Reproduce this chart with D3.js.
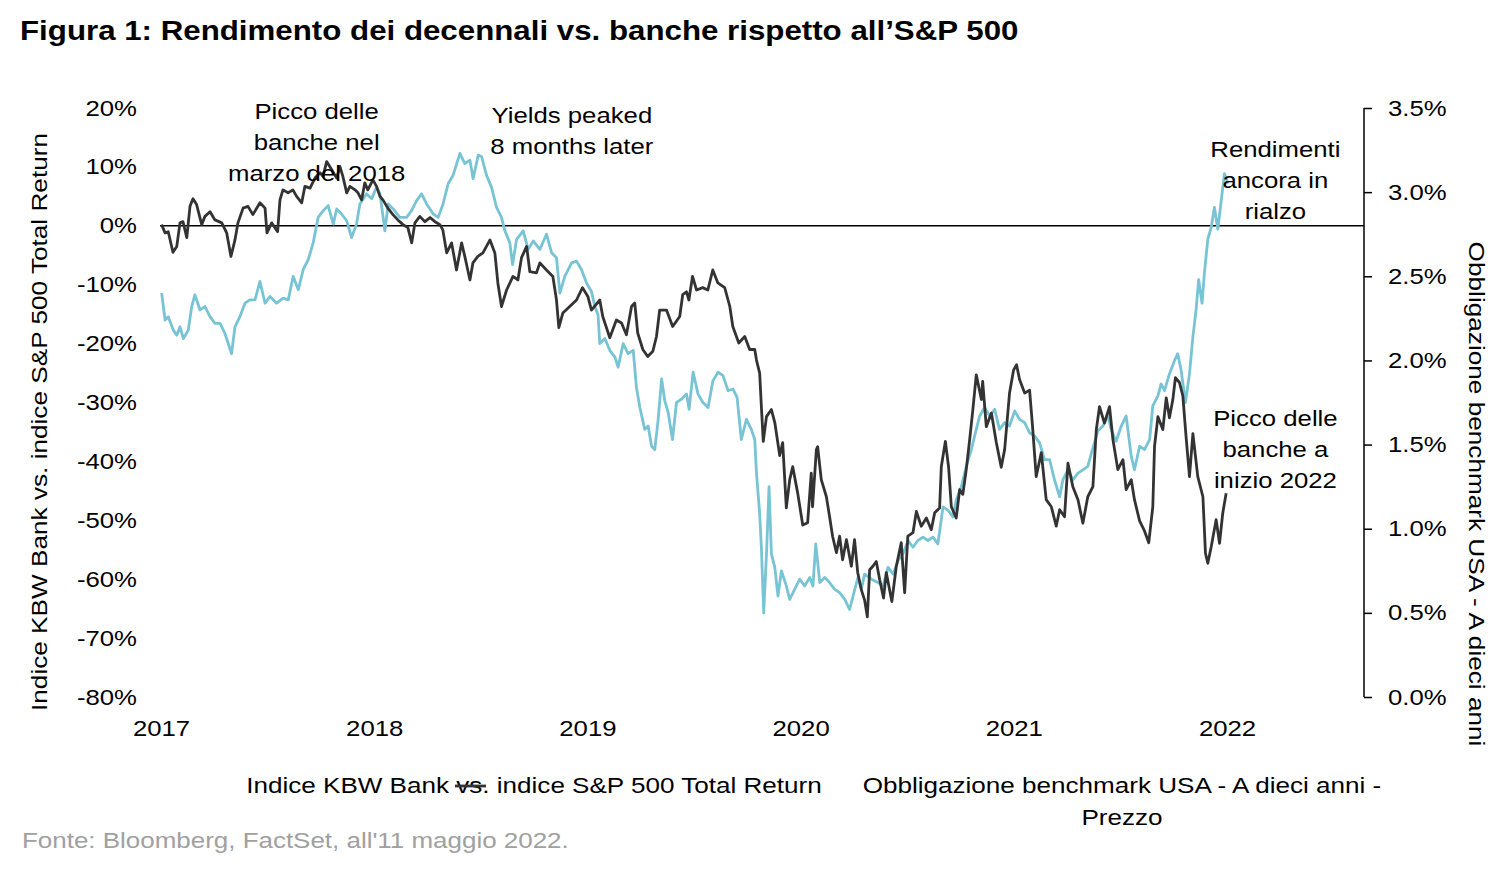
<!DOCTYPE html>
<html><head><meta charset="utf-8">
<script src="https://cdn.jsdelivr.net/npm/d3@7"></script>
<style>
body{margin:0;background:#fff;}
text{font-family:"Liberation Sans",Arial,sans-serif;}
</style></head>
<body>
<svg id="chart" width="1500" height="871"></svg>
<script>
// ---- DATA ----
const yearTicks = [2017, 2018, 2019, 2020, 2021, 2022];
const leftTicks = [20, 10, 0, -10, -20, -30, -40, -50, -60, -70, -80];
const rightTicks = [0, 0.5, 1.0, 1.5, 2.0, 2.5, 3.0, 3.5];

// KBW Bank vs S&P 500 TR (relative %), time in years since 2017
const kbwT = [0.003,0.019,0.034,0.056,0.074,0.089,0.103,0.121,0.136,0.150,0.167,0.191,0.206,0.230,0.253,0.285,0.308,0.328,0.347,0.361,0.385,0.408,0.431,0.464,0.488,0.497,0.519,0.547,0.558,0.572,0.596,0.619,0.636,0.660,0.675,0.699,0.722,0.746,0.760,0.777,0.801,0.824,0.839,0.853,0.871,0.886,0.910,0.924,0.941,0.956,0.970,0.994,1.011,1.027,1.041,1.064,1.088,1.111,1.135,1.158,1.176,1.191,1.214,1.238,1.262,1.285,1.308,1.322,1.340,1.363,1.386,1.410,1.425,1.449,1.463,1.486,1.510,1.543,1.566,1.580,1.597,1.621,1.651,1.674,1.691,1.715,1.730,1.761,1.777,1.808,1.838,1.855,1.866,1.885,1.917,1.949,1.977,2.002,2.019,2.058,2.072,2.105,2.136,2.160,2.183,2.207,2.222,2.236,2.260,2.283,2.307,2.324,2.339,2.371,2.400,2.433,2.447,2.465,2.476,2.493,2.512,2.541,2.565,2.588,2.612,2.644,2.668,2.682,2.710,2.738,2.761,2.785,2.793,2.808,2.816,2.825,2.840,2.863,2.879,2.902,2.916,2.933,2.949,2.963,2.986,3.010,3.033,3.050,3.056,3.074,3.080,3.097,3.121,3.136,3.150,3.168,3.183,3.197,3.215,3.238,3.253,3.268,3.285,3.300,3.313,3.324,3.339,3.355,3.371,3.389,3.402,3.428,3.449,3.472,3.488,3.503,3.527,3.543,3.566,3.590,3.613,3.629,3.652,3.660,3.679,3.694,3.707,3.730,3.746,3.761,3.777,3.793,3.808,3.824,3.848,3.854,3.871,3.895,3.918,3.941,3.957,3.980,3.999,4.013,4.027,4.051,4.074,4.088,4.105,4.129,4.152,4.176,4.199,4.215,4.238,4.254,4.277,4.301,4.324,4.347,4.371,4.387,4.402,4.425,4.449,4.465,4.488,4.512,4.527,4.551,4.566,4.590,4.613,4.633,4.652,4.660,4.676,4.699,4.715,4.730,4.746,4.758,4.777,4.793,4.808,4.824,4.840,4.863,4.887,4.899,4.910,4.926,4.949,4.965,4.980,4.996];
const kbwV = [0.2,-1.2,-1.0,-4.5,-3.5,0.5,0.7,-2.0,3.3,4.6,3.6,0.2,1.6,2.4,1.0,0.5,-1.2,-5.2,-2.4,0.5,3.0,3.3,1.9,3.9,3.0,-1.2,0.5,-1.0,4.4,6.1,5.6,6.1,5.0,3.9,6.7,6.4,8.1,9.0,8.4,10.9,9.5,8.1,10.1,8.4,5.6,6.7,6.1,5.6,4.4,7.3,6.1,7.8,6.7,5.0,4.4,3.0,1.9,1.0,0.2,-0.3,-2.9,0.5,1.6,0.7,1.4,0.7,0.2,-0.7,-4.6,-2.9,-7.5,-2.9,-5.2,-9.2,-6.3,-5.2,-4.6,-2.4,-4.6,-9.7,-13.7,-10.9,-8.6,-9.2,-5.4,-3.5,-7.8,-8.0,-6.3,-7.5,-8.6,-12.6,-17.3,-14.8,-13.7,-12.6,-10.5,-12.0,-14.3,-12.6,-15.4,-19.0,-16.0,-16.5,-18.5,-13.7,-13.1,-18.2,-21.0,-22.2,-21.3,-18.8,-14.3,-14.3,-17.1,-15.4,-11.7,-11.2,-12.6,-8.6,-10.9,-10.5,-10.9,-7.5,-9.7,-10.5,-13.7,-17.1,-19.9,-18.8,-21.0,-21.0,-22.8,-25.0,-30.7,-36.6,-32.4,-31.2,-33.4,-39.0,-36.8,-47.9,-43.1,-40.9,-45.3,-50.8,-50.4,-42.0,-47.7,-38.0,-37.5,-43.1,-46.0,-49.4,-52.7,-55.5,-52.7,-56.7,-53.3,-57.8,-53.3,-58.9,-61.8,-63.5,-66.4,-58.4,-57.8,-57.0,-60.1,-63.2,-58.9,-63.8,-57.8,-53.8,-62.3,-52.7,-52.1,-48.5,-51.0,-49.6,-51.6,-48.7,-47.9,-40.9,-36.6,-40.9,-47.7,-49.6,-44.8,-45.6,-41.4,-36.3,-31.2,-25.3,-29.5,-26.4,-34.1,-31.8,-36.8,-41.0,-38.0,-28.4,-24.5,-23.6,-26.1,-28.4,-27.9,-34.1,-42.6,-38.5,-46.5,-47.7,-51.0,-48.2,-49.4,-40.3,-44.3,-46.5,-50.5,-46.0,-44.3,-34.6,-30.7,-33.5,-30.7,-36.3,-41.4,-39.7,-44.8,-43.1,-46.5,-50.1,-51.8,-53.8,-47.7,-37.5,-32.4,-34.6,-29.2,-32.6,-29.5,-25.8,-26.6,-28.9,-35.8,-42.6,-35.3,-42.6,-46.0,-55.6,-57.3,-54.5,-49.9,-53.9,-48.8,-45.4];

// US 10-year benchmark yield (%), time in years since 2017
const yldT = [0.003,0.019,0.034,0.058,0.074,0.089,0.105,0.128,0.144,0.159,0.183,0.206,0.230,0.253,0.277,0.300,0.331,0.347,0.370,0.394,0.417,0.441,0.464,0.488,0.511,0.542,0.573,0.597,0.620,0.644,0.667,0.691,0.714,0.737,0.761,0.784,0.808,0.824,0.847,0.871,0.894,0.917,0.933,0.964,0.988,1.011,1.027,1.042,1.050,1.066,1.089,1.120,1.152,1.175,1.199,1.222,1.246,1.277,1.300,1.323,1.347,1.370,1.402,1.425,1.449,1.464,1.488,1.504,1.527,1.550,1.574,1.597,1.613,1.636,1.649,1.668,1.699,1.722,1.746,1.777,1.808,1.832,1.855,1.871,1.894,1.926,1.949,1.972,1.996,2.019,2.035,2.050,2.058,2.082,2.105,2.129,2.144,2.168,2.191,2.215,2.230,2.246,2.269,2.285,2.301,2.316,2.332,2.348,2.363,2.379,2.399,2.418,2.441,2.465,2.477,2.496,2.519,2.542,2.566,2.589,2.613,2.636,2.660,2.683,2.702,2.722,2.746,2.769,2.785,2.793,2.808,2.816,2.827,2.840,2.852,2.863,2.879,2.894,2.910,2.933,2.949,2.972,2.996,3.019,3.043,3.058,3.071,3.090,3.113,3.136,3.160,3.183,3.207,3.230,3.254,3.269,3.285,3.300,3.332,3.363,3.387,3.410,3.434,3.457,3.480,3.504,3.527,3.550,3.574,3.597,3.621,3.644,3.668,3.691,3.715,3.730,3.754,3.777,3.801,3.816,3.840,3.863,3.887,3.910,3.933,3.957,3.980,4.004,4.027,4.051,4.074,4.098,4.121,4.144,4.168,4.191,4.215,4.230,4.254,4.277,4.301,4.324,4.347,4.371,4.394,4.418,4.441,4.457,4.480,4.504,4.527,4.551,4.566,4.590,4.613,4.637,4.652,4.676,4.691,4.707,4.730,4.754,4.769,4.785,4.805,4.824,4.840,4.855,4.867,4.883,4.894,4.910,4.926,4.941,4.957,4.973,4.988,5.004];
const yldV = [2.40,2.24,2.26,2.18,2.15,2.20,2.13,2.18,2.32,2.39,2.30,2.32,2.26,2.22,2.22,2.16,2.04,2.20,2.26,2.34,2.36,2.36,2.47,2.34,2.38,2.34,2.37,2.36,2.50,2.42,2.54,2.60,2.70,2.85,2.89,2.92,2.81,2.90,2.87,2.83,2.73,2.81,2.93,2.99,2.96,3.03,2.99,2.85,2.77,2.93,2.90,2.85,2.85,2.89,2.95,2.99,2.93,2.87,2.85,2.93,3.05,3.10,3.23,3.17,3.19,3.08,3.22,3.21,3.10,3.03,2.91,2.85,2.77,2.70,2.57,2.72,2.77,2.66,2.71,2.66,2.75,2.64,2.61,2.40,2.50,2.58,2.59,2.54,2.46,2.41,2.32,2.27,2.10,2.13,2.06,2.02,1.96,2.10,2.04,2.06,1.84,1.72,1.59,1.61,1.49,1.47,1.65,1.89,1.76,1.69,1.53,1.75,1.77,1.80,1.71,1.93,1.80,1.75,1.72,1.88,1.93,1.91,1.82,1.83,1.78,1.53,1.65,1.59,1.53,1.33,1.09,0.89,0.50,0.85,1.25,0.85,0.77,0.60,0.75,0.66,0.58,0.64,0.70,0.66,0.71,0.66,0.91,0.68,0.71,0.68,0.64,0.62,0.58,0.52,0.64,0.71,0.64,0.73,0.70,0.68,0.66,0.77,0.73,0.81,0.85,0.93,0.89,0.93,0.95,0.93,0.95,0.91,1.13,1.11,1.07,1.17,1.25,1.37,1.47,1.55,1.67,1.72,1.67,1.71,1.59,1.63,1.61,1.70,1.65,1.63,1.57,1.55,1.51,1.41,1.41,1.29,1.19,1.29,1.35,1.29,1.33,1.35,1.37,1.48,1.58,1.61,1.67,1.59,1.52,1.61,1.67,1.43,1.35,1.49,1.47,1.53,1.73,1.79,1.86,1.82,1.92,2.00,2.04,1.94,1.75,1.92,2.14,2.30,2.48,2.34,2.52,2.72,2.79,2.91,2.78,2.95,3.11,3.05];

const titleText = "Figura 1: Rendimento dei decennali vs. banche rispetto all\u2019S&P 500";
const leftTitle = "Indice KBW Bank vs. indice S&P 500 Total Return";
const rightTitle = "Obbligazione benchmark USA - A dieci anni";
const legendA = "Indice KBW Bank vs. indice S&P 500 Total Return";
const legendB = ["Obbligazione benchmark USA - A dieci anni -", "Prezzo"];
const sourceText = "Fonte: Bloomberg, FactSet, all'11 maggio 2022.";
const notes = [
  {lines:["Picco delle","banche nel","marzo del 2018"], t:0.73, v:18.2},
  {lines:["Yields peaked","8 months later"], t:1.927, v:17.5},
  {lines:["Rendimenti","ancora in","rialzo"], t:5.227, v:11.7},
  {lines:["Picco delle","banche a","inizio 2022"], t:5.227, v:-34.0}
];

// ---- CHART ----
const DARK = "#333333", BLUE = "#78c3d4";
const FONT = '"Liberation Sans",Arial,sans-serif';
const SX = 1.17;   // horizontal glyph stretch of the reference typography
const svg = d3.select("#chart");
const x = d3.scaleLinear().domain([0, 5]).range([161, 1227]);
const yL = d3.scaleLinear().domain([-80, 20]).range([697, 108]);
const yR = d3.scaleLinear().domain([0, 3.5]).range([697, 108]);
const FS = 22;

function txt(px, py, s, opts = {}) {
  const sx = opts.sx || SX;
  return svg.append("text")
    .attr("transform", `translate(${px},${py}) ${opts.rot ? "rotate(" + opts.rot + ")" : ""} scale(${sx},1)`)
    .attr("text-anchor", opts.anchor || "start")
    .attr("font-size", opts.fs || FS)
    .attr("font-weight", opts.bold ? "bold" : "normal")
    .attr("fill", opts.fill || "#000")
    .style("font-family", FONT)
    .text(s);
}
function stretchTicks(g) {
  g.selectAll("text").each(function () {
    const t = d3.select(this);
    const xv = +t.attr("x") || 0;
    t.attr("x", xv / SX).attr("transform", `scale(${SX},1)`)
      .attr("font-size", FS).attr("fill", "#000").style("font-family", FONT);
  });
}

txt(20, 40, titleText, {fs: 28, bold: true, sx: 1.117});

// left axis
const gl = svg.append("g").attr("transform", "translate(160,0)")
  .call(d3.axisLeft(yL).tickValues(leftTicks).tickSize(0).tickPadding(23).tickFormat(d => d + "%"));
gl.select(".domain").remove();
stretchTicks(gl);

// right axis
const gr = svg.append("g").attr("transform", "translate(1364,0)")
  .call(d3.axisRight(yR).tickValues(rightTicks).tickSize(8).tickPadding(16).tickFormat(d => d.toFixed(1) + "%"));
gr.select(".domain").attr("stroke", "#000").attr("stroke-width", 1.5).attr("d", "M0,108V697");
gr.selectAll("line").attr("stroke", "#000").attr("stroke-width", 1.5);
stretchTicks(gr);

// x axis
const gx = svg.append("g").attr("transform", "translate(0,697)")
  .call(d3.axisBottom(x).tickValues(yearTicks.map(y => y - 2017)).tickSize(0).tickPadding(23).tickFormat((d, i) => yearTicks[i]));
gx.select(".domain").remove();
stretchTicks(gx);

// zero line
svg.append("line").attr("x1", 160).attr("x2", 1364).attr("y1", yL(0)).attr("y2", yL(0)).attr("stroke", "#000").attr("stroke-width", 1.5);

// lines
const yldData = yldT.map((t, i) => [t, yldV[i]]);
const kbwData = kbwT.map((t, i) => [t, kbwV[i]]);
svg.append("path").datum(yldData).attr("fill", "none").attr("stroke", BLUE).attr("stroke-width", 2.8).attr("stroke-linejoin", "round")
  .attr("d", d3.line().x(d => x(d[0])).y(d => yR(d[1])));
svg.append("path").datum(kbwData).attr("fill", "none").attr("stroke", DARK).attr("stroke-width", 2.8).attr("stroke-linejoin", "round")
  .attr("d", d3.line().x(d => x(d[0])).y(d => yL(d[1])));

// annotations
notes.forEach(n => {
  n.lines.forEach((l, i) => txt(x(n.t), yL(n.v) + i * 31, l, {anchor: "middle"}));
});

// axis titles
txt(47, 422, leftTitle, {anchor: "middle", rot: -90, sx: 1.19});
txt(1469, 494, rightTitle, {anchor: "middle", rot: 90, sx: 1.19});

// legend
txt(534, 793, legendA, {anchor: "middle", sx: 1.185});
svg.append("line").attr("x1", 455).attr("x2", 486).attr("y1", 786).attr("y2", 786).attr("stroke", DARK).attr("stroke-width", 2.8);
legendB.forEach((l, i) => txt(1122, 793 + i * 32, l, {anchor: "middle", sx: 1.185}));

// source
txt(22, 848, sourceText, {fill: "#a0a0a0", sx: 1.18});
</script>
</body></html>
